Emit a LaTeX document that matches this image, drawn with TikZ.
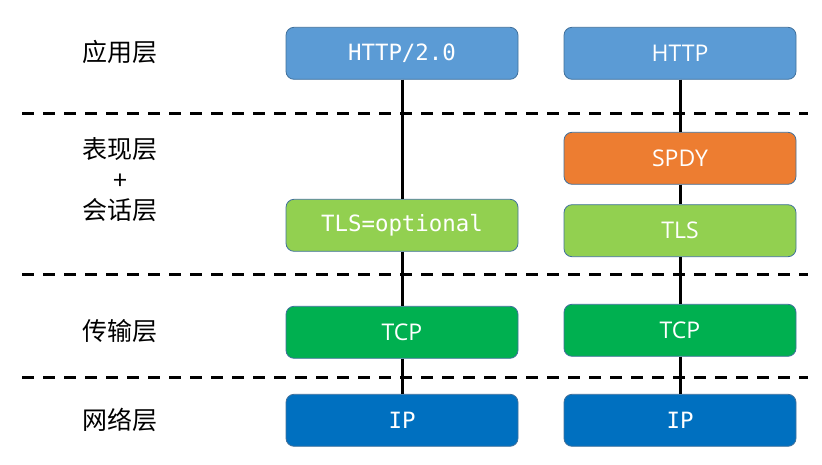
\documentclass[tikz,border=0pt]{standalone}
\usepackage{fontspec}
\newfontfamily\cjk{Noto Sans CJK SC}
\newfontfamily\monof{DejaVu Sans Mono}
\newfontfamily\sansf{Open Sans}
\definecolor{cHttp}{HTML}{5B9BD5}
\definecolor{cSpdy}{HTML}{ED7D31}
\definecolor{cTls}{HTML}{92D050}
\definecolor{cTcp}{HTML}{00B050}
\definecolor{cIp}{HTML}{0070C0}
\definecolor{cEdge}{HTML}{41719C}
\tikzset{
  layerbox/.style={draw=cEdge, line width=0.8pt, rounded corners=8pt, minimum width=232pt, minimum height=52pt, inner sep=0pt, text=white},
  monotext/.style={font=\monof\fontsize{22.4}{26}\selectfont},
  sanstext/.style={font=\sansf\fontsize{23}{27}\selectfont},
  layerlabel/.style={font=\cjk\fontsize{25}{30.5}\selectfont, align=center, inner sep=0pt},
  sepline/.style={line width=3pt, dash pattern=on 12pt off 9pt},
  link/.style={line width=3pt}
}
\begin{document}
\begin{tikzpicture}[x=1pt,y=-1pt]
\useasboundingbox (0,0) rectangle (822,465);
% separators
\coordinate (s1a) at (22,114); \coordinate (s1b) at (808,114);
\coordinate (s2a) at (22,274); \coordinate (s2b) at (808,274);
\coordinate (s3a) at (22,377.5); \coordinate (s3b) at (808,377.5);
\draw[sepline] (s1a) -- (s1b);
\draw[sepline] (s2a) -- (s2b);
\draw[sepline] (s3a) -- (s3b);
% labels
\node[layerlabel] (lapp) at (120,52) {应用层};
\node[layerlabel] (lpres) at (120,180) {表现层\\+\\会话层};
\node[layerlabel] (ltrans) at (120,331) {传输层};
\node[layerlabel] (lnet) at (120,420) {网络层};
% left column
\node[layerbox, fill=cHttp, monotext] (h2) at (402,53.3) {HTTP/2.0};
\node[layerbox, fill=cTls, monotext] (tlso) at (402,225.3) {TLS=optional};
\node[layerbox, fill=cTcp, sanstext] (tcpl) at (402,332.3) {TCP};
\node[layerbox, fill=cIp, monotext] (ipl) at (402,420.3) {IP};
% right column
\node[layerbox, fill=cHttp, sanstext] (h1) at (680,53.3) {HTTP};
\node[layerbox, fill=cSpdy, sanstext] (spdy) at (680,158.3) {SPDY};
\node[layerbox, fill=cTls, sanstext] (tlsr) at (680,230.7) {TLS};
\node[layerbox, fill=cTcp, sanstext] (tcpr) at (680,330.3) {TCP};
\node[layerbox, fill=cIp, monotext] (ipr) at (680,420.3) {IP};
% links
\draw[link] (h2.south) -- (tlso.north);
\draw[link] (tlso.south) -- (tcpl.north);
\draw[link] (tcpl.south) -- (ipl.north);
\draw[link] (h1.south) -- (spdy.north);
\draw[link] (spdy.south) -- (tlsr.north);
\draw[link] (tlsr.south) -- (tcpr.north);
\draw[link] (tcpr.south) -- (ipr.north);
\end{tikzpicture}
\end{document}
